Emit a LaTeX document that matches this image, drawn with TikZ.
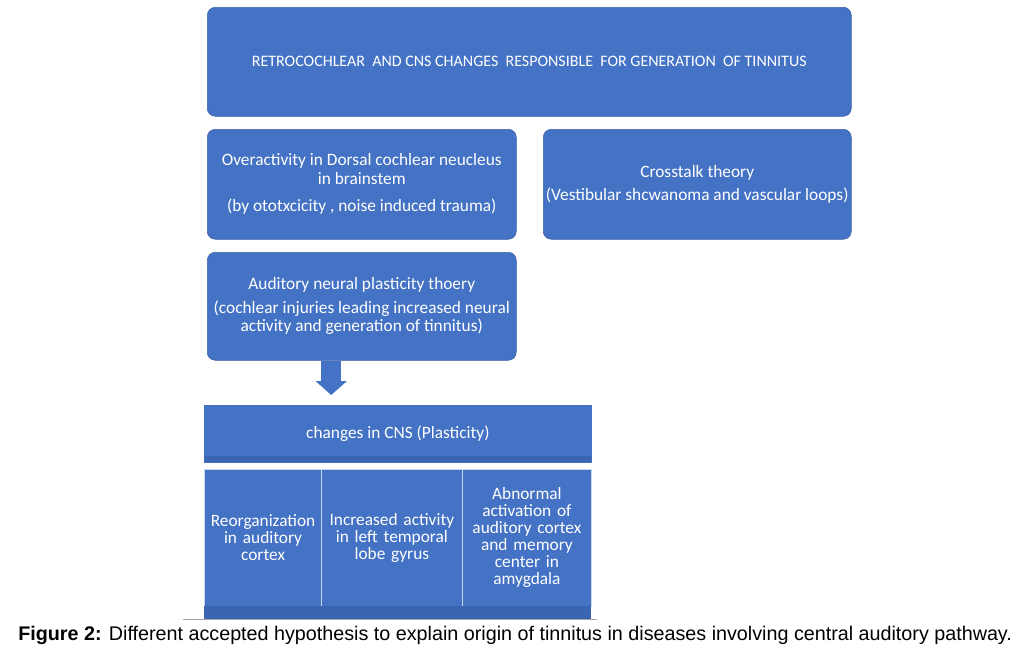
\documentclass[tikz,border=0pt]{standalone}
\usepackage{fontspec}
\setmainfont{Carlito}
\newfontfamily\capfont{Liberation Sans}
\usetikzlibrary{positioning,calc,arrows.meta}
\definecolor{boxblue}{HTML}{4472C4}
\definecolor{bandblue}{HTML}{3B65B3}
\definecolor{rulegray}{HTML}{A6A6A6}
\tikzset{box/.style={draw=boxblue!85!black,line width=0.4pt,fill=boxblue,rounded corners=6pt,
    text=white,align=center,anchor=north west,inner sep=2pt,font=\fontsize{13}{14.25}\selectfont},
  cell/.style={draw=white!70!boxblue,line width=0.6pt,fill=boxblue,text=white,align=center,
    anchor=north west,inner sep=2pt,font=\fontsize{13}{12.75}\selectfont}}
\begin{document}
\begin{tikzpicture}[x=0.75pt,y=-0.75pt]
  \useasboundingbox[fill=white] (0,0) rectangle (1025,665);
  \node[box,minimum width=483pt,minimum height=81.75pt,font=\fontsize{12}{14}\selectfont] (top) at (207,7)
    {RETROCOCHLEAR\ \ AND\ CNS\ CHANGES\ \ RESPONSIBLE\ \ FOR GENERATION\ \ OF TINNITUS};
  \node[box,minimum width=231.75pt,minimum height=82.5pt] (over) at (207,129)
    {Overactivity in Dorsal cochlear neucleus\\in brainstem\\[6pt](by ototxcicity , noise induced trauma)};
  \node[box,minimum width=231pt,minimum height=82.5pt] (cross) at (543,129)
    {Crosstalk theory\\[3pt](Vestibular shcwanoma and vascular loops)};
  \node[box,minimum width=231.75pt,minimum height=81pt,font=\fontsize{13}{13.5}\selectfont] (plast) at (207,252)
    {Auditory neural plasticity thoery\\[4.5pt](cochlear injuries leading increased neural\\activity and generation of tinnitus)};

  \node[cell,draw=boxblue,minimum width=290.25pt,minimum height=42.75pt] (cns) at (204,405) {changes in CNS (Plasticity)};
  \fill[bandblue] (204,456) rectangle (591,462);

  % three cells with the dark strip below them
  \node[cell,text width=84pt,minimum width=87.75pt,minimum height=102.75pt] (reorg) at (204,469)
    {Reorganization\\in auditory\\cortex};
  \node[cell,text width=100pt,minimum width=105.75pt,minimum height=102.75pt] (incr) at (321,469)
    {Increased activity\\in left temporal\\lobe gyrus};
  \node[cell,text width=92pt,minimum width=96.75pt,minimum height=102.75pt] (abn) at (462,469)
    {Abnormal\\activation of\\auditory cortex\\and memory\\center in\\amygdala};
  \fill[bandblue] (204,606) rectangle (591,620);
  \draw[rulegray,line width=1pt] (183,619.5) -- (597,619.5);

  \draw[-{Triangle[width=23pt,length=10.5pt]},line width=15pt,boxblue,shorten >=7.5pt]
    ([xshift=-22.9pt]plast.south) -- ([xshift=-22.9pt]plast.south |- cns.north);

  \node[anchor=base west,inner sep=0pt,font=\capfont\fontsize{14.8}{16}\selectfont] (cap) at (18,640)
    {\textbf{Figure 2:} Different accepted hypothesis to explain origin of tinnitus in diseases involving central auditory pathway.};
\end{tikzpicture}
\end{document}
